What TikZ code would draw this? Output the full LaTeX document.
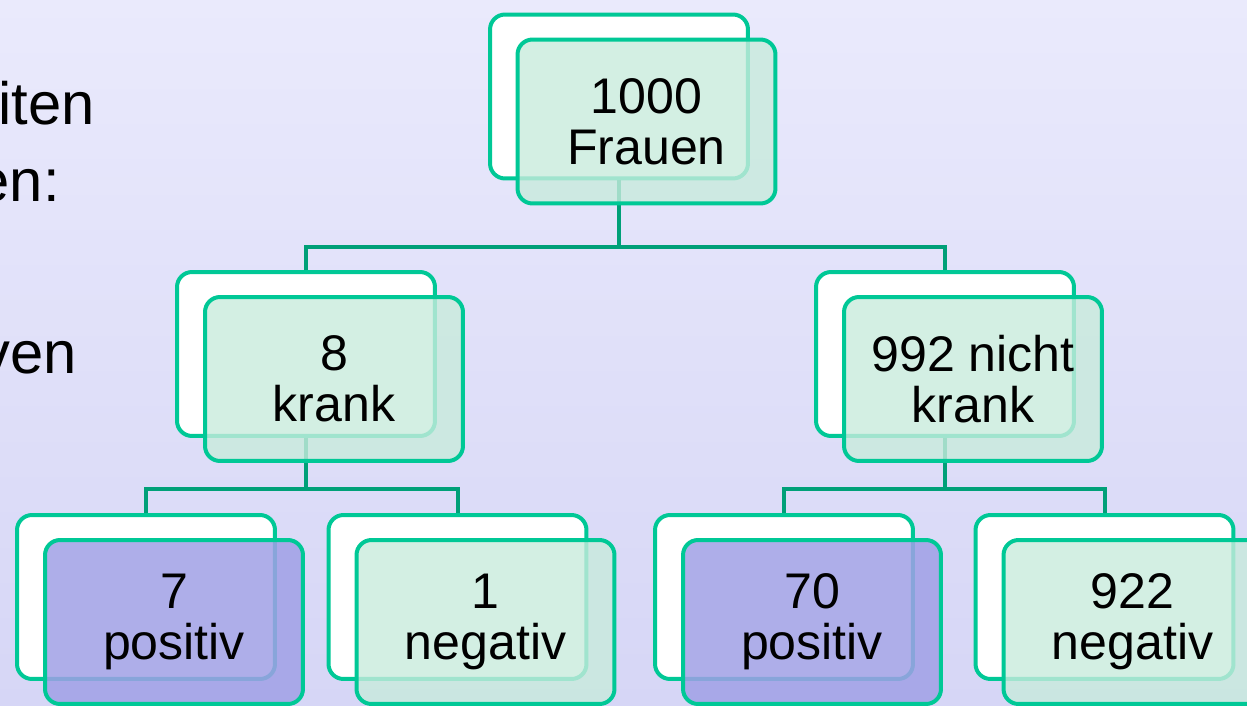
\documentclass[tikz,border=0pt]{standalone}
\usepackage{fontspec}
\setmainfont{Liberation Sans}
\usetikzlibrary{positioning}
\definecolor{rahmen}{RGB}{0,200,150}
\definecolor{linie}{RGB}{0,160,120}
\definecolor{gruenfeld}{RGB}{200,235,220}
\definecolor{lilafeld}{RGB}{160,160,230}
\definecolor{bgoben}{RGB}{234,234,252}
\definecolor{bgunten}{RGB}{214,214,246}

\begin{document}
\begin{tikzpicture}[x=0.02cm,y=-0.02cm,
	hinten/.style={draw=rahmen,fill=white,line width=4*0.02cm,rounded corners=0.3cm,
		minimum width=5.16cm,minimum height=3.28cm},
	vorn/.style={hinten,fill=gruenfeld,fill opacity=0.8,text opacity=1,align=center,
		font=\fontsize{28.5}{29}\selectfont},
	vornlila/.style={vorn,fill=lilafeld,fill opacity=0.85},
	verbinder/.style={draw=linie,line width=4*0.02cm},
	randtext/.style={anchor=base east,font=\fontsize{34}{40}\selectfont}]
	\useasboundingbox (0,0) rectangle (1247,706);
	\shade [top color=bgoben, bottom color=bgunten] (0,0) rectangle (1247,706);
	\node[hinten] (frauenhg) at (619,96.5) {};
	\node[hinten] (krankhg) at (306,354) {};
	\node[hinten] (nichtkrankhg) at (945,354) {};
	\node[hinten] (kposhg) at (146,597) {};
	\node[hinten] (kneghg) at (457.5,597) {};
	\node[hinten] (nposhg) at (784,597) {};
	\node[hinten] (nneghg) at (1104.5,597) {};
	\coordinate (ast1) at (619,247);
	\coordinate (ast2) at (306,489);
	\coordinate (ast3) at (945,489);
	\draw[verbinder] (frauenhg.south) -- (ast1);
	\draw[verbinder] (krankhg.north) |- (ast1) -| (nichtkrankhg.north);
	\draw[verbinder] (krankhg.south) -- (ast2);
	\draw[verbinder] (kposhg.north) |- (ast2) -| (kneghg.north);
	\draw[verbinder] (nichtkrankhg.south) -- (ast3);
	\draw[verbinder] (nposhg.north) |- (ast3) -| (nneghg.north);
	\node[vorn] (frauen) at ([shift={(27.5,25)}]frauenhg) {1000\\Frauen};
	\node[vorn] (krank) at ([shift={(28,25)}]krankhg) {8\\krank};
	\node[vorn] (nichtkrank) at ([shift={(28,25)}]nichtkrankhg) {992 nicht\\krank};
	\node[vornlila] (kpos) at ([shift={(28,25)}]kposhg) {7\\positiv};
	\node[vorn] (kneg) at ([shift={(28,25)}]kneghg) {1\\negativ};
	\node[vornlila] (npos) at ([shift={(28,25)}]nposhg) {70\\positiv};
	\node[vorn] (nneg) at ([shift={(28,25)}]nneghg) {922\\negativ};
	\draw (101,125) node[randtext] (zeile1) {iten};
	\draw (66,201) node[randtext] (zeile2) {en:};
	\draw (83,373) node[randtext] (zeile3) {ven};
\end{tikzpicture}
\end{document}
